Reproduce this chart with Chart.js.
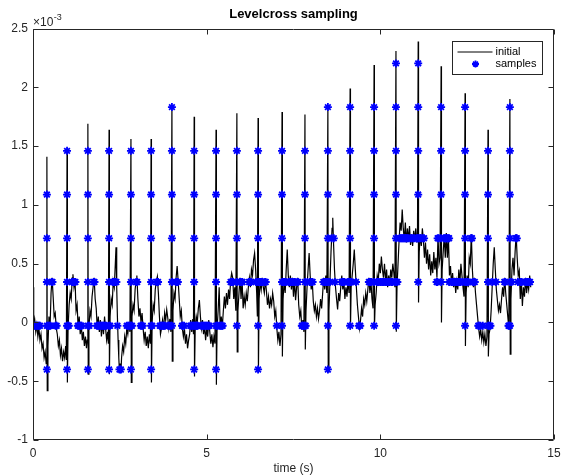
<!DOCTYPE html>
<html>
<head>
<meta charset="utf-8">
<script src="https://cdn.jsdelivr.net/npm/chart.js@4/dist/chart.umd.min.js"></script>
<style>
html,body{margin:0;padding:0;background:#fff;}
#wrap{width:561px;height:476px;position:relative;}
</style>
</head>
<body>
<div id="wrap"><canvas id="c" width="561" height="476"></canvas></div>
<script>
// ---- data (values in units of 1e-3) ----
const chartTitle = 'Levelcross sampling';
const xAxisTitle = 'time (s)';
const xTickValues = [0, 5, 10, 15];
const yTickValues = [-1, -0.5, 0, 0.5, 1, 1.5, 2, 2.5];
const seriesNames = ['initial', 'samples'];

// initial signal: [time (s), value (x1e-3)]
const initialSignal = [
[0.00,0.30],[0.02,-0.05],[0.05,0.02],[0.08,-0.08],[0.11,-0.02],[0.14,-0.12],[0.17,-0.05],[0.20,-0.15],[0.23,-0.10],[0.26,-0.22],[0.29,-0.18],[0.32,-0.30],[0.35,-0.25],[0.38,-0.35],
[0.40,1.41],[0.41,-0.58],[0.43,-0.20],
[0.46,0.05],[0.49,-0.05],[0.52,0.25],[0.55,0.38],[0.58,0.22],[0.61,0.05],[0.64,0.08],[0.67,-0.05],[0.70,-0.10],[0.73,-0.20],[0.76,-0.15],[0.79,-0.28],[0.82,-0.22],[0.85,-0.33],[0.88,-0.25],[0.91,-0.30],[0.94,-0.20],[0.96,-0.32],
[0.98,1.47],[0.99,-0.51],[1.01,-0.05],
[1.04,0.15],[1.07,0.25],[1.10,0.20],[1.13,0.38],[1.15,0.41],[1.18,0.30],[1.21,0.36],[1.24,0.10],[1.27,0.15],[1.30,-0.05],[1.33,0.05],[1.36,-0.10],[1.39,-0.02],[1.42,-0.15],[1.45,-0.08],[1.48,-0.20],[1.51,-0.12],[1.54,-0.22],[1.56,-0.15],
[1.58,1.69],[1.59,-0.44],[1.61,-0.05],
[1.64,0.10],[1.67,0.05],[1.70,0.22],[1.73,0.30],[1.76,0.38],[1.79,0.20],[1.82,0.12],[1.85,-0.05],[1.88,0.05],[1.91,-0.08],[1.94,0.02],[1.97,-0.12],[2.00,0.00],[2.03,-0.10],[2.06,0.05],[2.09,-0.05],[2.12,-0.15],[2.15,-0.08],[2.17,-0.18],
[2.19,1.64],[2.20,-0.44],[2.22,0.05],
[2.25,0.20],[2.28,0.15],[2.31,0.35],[2.34,0.30],[2.37,0.50],[2.39,0.64],[2.41,0.30],[2.43,0.05],[2.45,-0.15],[2.47,-0.30],[2.49,-0.42],[2.51,-0.35],[2.53,-0.43],[2.55,-0.30],[2.58,-0.20],[2.61,-0.25],[2.64,-0.12],[2.67,-0.18],[2.70,-0.05],[2.73,-0.10],[2.76,0.00],[2.79,-0.08],
[2.82,1.56],[2.83,-0.51],[2.85,0.05],
[2.88,0.15],[2.91,0.10],[2.94,0.28],[2.97,0.36],[2.99,0.40],[3.02,0.20],[3.05,0.05],[3.08,0.12],[3.11,0.00],[3.14,0.08],[3.17,-0.05],[3.20,-0.15],[3.23,-0.08],[3.26,-0.20],[3.29,-0.12],[3.32,-0.22],[3.35,-0.10],[3.38,-0.18],
[3.40,1.56],[3.41,-0.51],[3.43,0.00],
[3.46,0.15],[3.49,0.10],[3.52,0.28],[3.55,0.35],[3.58,0.39],[3.61,0.25],[3.64,0.05],[3.67,-0.10],[3.70,-0.05],[3.73,0.02],[3.76,-0.06],[3.79,0.08],[3.82,0.02],[3.85,0.11],[3.88,0.04],[3.91,-0.05],[3.94,0.03],[3.97,-0.08],
[4.00,1.85],[4.01,-0.33],[4.03,0.10],
[4.06,0.25],[4.09,0.20],[4.12,0.38],[4.15,0.48],[4.18,0.35],[4.21,0.20],[4.24,0.05],[4.27,0.10],[4.30,-0.05],[4.33,-0.12],[4.36,-0.05],[4.39,-0.18],[4.42,-0.10],[4.45,-0.22],[4.48,-0.15],[4.51,-0.10],[4.54,0.02],[4.57,-0.08],[4.60,0.03],[4.62,-0.10],
[4.64,1.75],[4.65,-0.46],[4.67,-0.05],
[4.70,0.05],[4.73,0.00],[4.76,0.12],[4.79,0.19],[4.82,0.05],[4.85,-0.05],[4.88,0.02],[4.91,-0.10],[4.94,-0.03],[4.97,-0.15],[5.00,-0.05],[5.03,-0.12],[5.06,0.02],[5.09,-0.08],[5.12,-0.18],[5.15,-0.10],[5.18,-0.21],[5.21,-0.12],[5.24,-0.18],
[5.27,1.64],[5.28,-0.53],[5.30,-0.05],
[5.33,0.10],[5.36,0.30],[5.39,-0.05],[5.42,0.05],[5.45,-0.04],[5.48,0.10],[5.51,0.22],[5.54,0.12],[5.57,0.25],[5.60,0.15],[5.63,0.28],[5.66,0.20],[5.69,0.36],[5.72,0.42],[5.75,0.38],[5.78,0.20],[5.81,0.30],[5.84,0.10],
[5.87,1.78],[5.88,-0.25],[5.90,0.10],
[5.93,0.25],[5.96,0.38],[5.99,0.20],[6.02,0.36],[6.05,0.12],[6.08,0.22],[6.11,0.15],[6.14,0.25],[6.17,0.18],[6.20,0.30],[6.23,0.38],[6.26,0.30],[6.29,0.45],[6.32,0.40],[6.35,0.53],[6.38,0.59],[6.41,0.45],[6.44,0.25],[6.46,0.05],
[6.48,1.74],[6.49,-0.43],[6.51,0.20],
[6.54,0.35],[6.57,0.28],[6.60,0.38],[6.63,0.30],[6.66,0.25],[6.69,0.36],[6.72,0.27],[6.75,0.15],[6.78,0.22],[6.81,0.12],[6.84,0.20],[6.87,0.15],[6.90,0.25],[6.93,0.18],[6.96,0.05],[6.99,0.10],[7.02,-0.05],[7.05,-0.15],[7.08,-0.08],[7.11,-0.20],[7.14,-0.10],
[7.17,1.79],[7.18,-0.29],[7.20,0.20],
[7.23,0.35],[7.26,0.25],[7.29,0.45],[7.32,0.62],[7.35,0.40],[7.38,0.30],[7.41,0.40],[7.44,0.28],[7.47,0.38],[7.50,0.22],[7.53,0.36],[7.56,0.19],[7.59,0.30],[7.62,0.38],[7.65,0.15],[7.68,0.05],[7.71,0.10],[7.74,-0.06],[7.77,0.02],[7.80,-0.08],
[7.83,1.77],[7.84,-0.23],[7.86,0.10],
[7.89,0.30],[7.92,0.45],[7.95,0.59],[7.98,0.40],[8.01,0.28],[8.04,0.35],[8.07,0.18],[8.10,0.10],[8.13,0.15],[8.16,0.05],[8.19,0.12],[8.22,0.03],[8.25,0.10],[8.28,0.20],[8.31,0.12],[8.34,0.25],[8.37,0.38],[8.40,0.28],[8.43,0.40],[8.46,0.25],
[8.49,1.84],[8.50,-0.42],[8.52,0.10],
[8.55,0.35],[8.58,0.60],[8.61,0.80],[8.63,0.89],[8.65,0.70],[8.68,0.45],[8.71,0.30],[8.74,0.20],[8.77,0.11],[8.80,0.25],[8.83,0.18],[8.86,0.30],[8.89,0.40],[8.92,0.28],[8.95,0.35],[8.98,0.20],[9.01,0.30],[9.04,0.22],[9.07,0.36],[9.10,0.25],
[9.13,1.99],[9.14,-0.06],[9.16,0.30],
[9.19,0.40],[9.22,0.50],[9.25,0.62],[9.28,0.45],[9.31,0.30],[9.34,0.15],[9.37,0.05],[9.40,-0.05],[9.43,0.02],[9.46,0.12],[9.49,0.05],[9.52,0.20],[9.55,0.15],[9.58,0.25],[9.61,0.18],[9.64,0.28],[9.67,0.38],[9.70,0.25],[9.73,0.35],[9.76,0.20],[9.79,0.12],
[9.82,2.19],[9.83,-0.05],[9.85,0.15],
[9.88,0.25],[9.91,0.40],[9.94,0.35],[9.97,0.50],[10.00,0.42],[10.03,0.56],[10.06,0.45],[10.09,0.38],[10.12,0.50],[10.15,0.35],[10.18,0.45],[10.21,0.30],[10.24,0.40],[10.27,0.32],[10.30,0.45],[10.33,0.38],[10.36,0.50],[10.39,0.42],[10.42,0.30],
[10.45,2.31],[10.46,-0.08],[10.48,0.30],
[10.51,0.50],[10.54,0.70],[10.57,0.85],[10.60,0.78],[10.63,0.96],[10.66,0.80],[10.69,0.70],[10.72,0.85],[10.75,0.68],[10.78,0.80],[10.81,0.70],[10.84,0.82],[10.87,0.66],[10.90,0.75],[10.93,0.65],[10.96,0.78],[10.99,0.70],[11.02,0.80],[11.05,0.68],[11.07,0.75],
[11.09,2.39],[11.10,0.17],[11.12,0.60],
[11.15,0.75],[11.18,0.65],[11.21,0.80],[11.24,0.70],[11.27,0.55],[11.30,0.68],[11.33,0.50],[11.36,0.62],[11.39,0.45],[11.42,0.58],[11.45,0.40],[11.48,0.52],[11.51,0.42],[11.54,0.60],[11.57,0.45],[11.60,0.55],[11.63,0.38],[11.66,0.74],[11.69,0.50],[11.72,0.55],
[11.75,2.18],[11.76,0.00],[11.78,0.45],
[11.81,0.60],[11.84,0.74],[11.87,0.55],[11.90,0.76],[11.93,0.55],[11.96,0.73],[11.99,0.40],[12.02,0.48],[12.05,0.32],[12.08,0.42],[12.11,0.30],[12.14,0.38],[12.17,0.25],[12.20,0.35],[12.23,0.28],[12.26,0.45],[12.29,0.33],[12.32,0.50],[12.35,0.40],[12.38,0.30],[12.41,0.22],
[12.44,1.95],[12.45,-0.20],[12.47,0.25],
[12.50,0.40],[12.53,0.30],[12.56,0.55],[12.59,0.50],[12.62,0.75],[12.65,0.45],[12.68,0.30],[12.71,0.38],[12.74,0.25],[12.77,0.15],[12.80,0.05],[12.83,-0.05],[12.86,-0.12],[12.89,-0.06],[12.92,-0.15],[12.95,-0.08],[12.98,-0.17],[13.01,-0.10],[13.04,-0.20],[13.07,-0.12],
[13.10,1.64],[13.11,-0.29],[13.13,-0.10],
[13.16,-0.05],[13.19,0.10],[13.22,0.30],[13.25,0.50],[13.28,0.64],[13.31,0.45],[13.34,0.28],[13.37,0.19],[13.40,0.10],[13.43,0.15],[13.46,0.08],[13.49,0.20],[13.52,0.30],[13.55,0.22],[13.58,0.38],[13.61,0.25],[13.64,0.15],[13.67,0.05],[13.70,-0.05],
[13.73,1.90],[13.74,-0.27],[13.76,0.20],
[13.79,0.45],[13.82,0.55],[13.85,0.40],[13.88,0.60],[13.91,0.75],[13.94,0.55],[13.97,0.40],[14.00,0.44],[14.03,0.20],[14.06,0.35],[14.09,0.14],[14.12,0.30],[14.15,0.22],[14.18,0.38],[14.21,0.25],[14.24,0.34],[14.27,0.28],[14.30,0.40],[14.33,0.30]
];

// sampling levels (x1e-3)
const sampleLevels = [-0.400, -0.028, 0.344, 0.716, 1.088, 1.460, 1.832, 2.204];
// sample times at each level (same order as sampleLevels)
const sampleTimesByLevel = [
  [0.40,0.98,1.58,2.19,2.49,2.53,2.82,3.40,4.64,5.27,6.48,8.49],
  [0.40,0.98,1.58,2.19,2.82,3.40,4.00,4.64,5.27,5.87,6.48,7.17,7.83,8.49,9.13,9.82,10.45,12.44,13.10,13.73,
   0.02,0.05,0.08,0.11,0.14,0.17,0.20,0.44,0.47,0.50,0.65,0.68,1.01,1.03,1.29,1.32,1.35,1.38,1.40,1.62,1.84,1.87,1.90,1.93,1.96,1.99,2.02,2.05,2.08,2.11,2.22,2.43,2.70,2.74,2.77,2.80,2.85,3.10,3.13,3.16,3.43,3.65,3.68,3.71,3.74,3.77,3.80,3.89,3.92,3.95,4.29,4.31,4.35,4.53,4.55,4.59,4.61,4.67,4.70,4.72,4.74,4.84,4.87,4.90,4.93,4.96,4.99,5.02,5.05,5.08,5.30,5.32,5.38,5.41,5.44,5.46,7.02,7.74,7.76,7.79,7.85,9.38,9.42,12.82,12.84,12.88,12.95,13.14,13.17,13.69,13.71],
  [0.40,0.98,1.58,2.19,2.82,3.40,4.00,4.64,5.27,5.87,6.48,7.17,7.83,8.49,9.13,9.82,10.45,11.09,11.75,12.44,13.10,13.73,
   0.54,0.56,1.12,1.16,1.20,1.22,1.75,1.77,2.30,2.33,2.38,2.40,2.97,3.00,3.56,3.60,4.12,4.17,5.69,5.72,5.76,5.96,5.97,6.02,6.03,6.22,6.24,6.28,6.42,6.53,6.56,6.59,6.61,6.68,6.70,7.22,7.25,7.28,7.36,7.40,7.42,7.46,7.48,7.52,7.54,7.61,7.63,7.90,7.97,8.03,8.05,8.36,8.39,8.42,8.45,8.55,8.69,8.88,8.90,8.94,8.96,9.07,9.08,9.17,9.30,9.67,9.69,9.72,9.74,9.90,9.93,9.96,10.01,10.05,10.08,10.10,10.14,10.16,10.19,10.22,10.25,10.27,10.32,10.34,10.41,10.49,11.62,11.64,11.98,12.04,12.06,12.10,12.13,12.15,12.19,12.21,12.25,12.28,12.31,12.37,12.48,12.52,12.54,12.67,12.69,12.72,13.22,13.33,13.57,13.59,13.78,13.96,14.04,14.07,14.17,14.19,14.23,14.25,14.29,14.31],
  [0.40,0.98,1.58,2.19,2.82,3.40,4.00,4.64,5.27,5.87,6.48,7.17,7.83,8.49,9.13,9.82,10.45,11.09,11.75,12.44,13.10,13.73,
   8.60,8.66,10.56,10.59,10.62,10.65,10.68,10.71,10.74,10.77,10.80,10.86,10.89,10.94,10.98,11.04,11.06,11.13,11.17,11.22,11.26,11.65,11.68,11.83,11.86,11.89,11.92,11.95,11.98,12.61,12.64,13.90,13.93],
  [0.40,0.98,1.58,2.19,2.82,3.40,4.00,4.64,5.27,5.87,6.48,7.17,7.83,8.49,9.13,9.82,10.45,11.09,11.75,12.44,13.10,13.73],
  [0.98,1.58,2.19,2.82,3.40,4.00,4.64,5.27,5.87,6.48,7.17,7.83,8.49,9.13,9.82,10.45,11.09,11.75,12.44,13.10,13.73],
  [4.00,8.49,9.13,9.82,10.45,11.09,11.75,12.44,13.73],
  [10.45,11.09]
];

// ---- build datasets ----
const lineData = initialSignal.map(p => ({x: p[0], y: p[1]}));
const sampleData = [];
sampleTimesByLevel.forEach((times, i) => times.forEach(t => sampleData.push({x: t, y: sampleLevels[i]})));

const AX = '#262626';
const FONT = '"Liberation Sans", Arial, Helvetica, sans-serif';

const matlabFrame = {
  id: 'matlabFrame',
  afterDraw(chart) {
    const {ctx, chartArea: a, scales: {x, y}} = chart;
    ctx.save();
    ctx.strokeStyle = AX;
    ctx.lineWidth = 1;
    const L = Math.round(a.left) + 0.5, R = Math.round(a.right) - 0.5;
    const T = Math.round(a.top) + 0.5, B = Math.round(a.bottom) - 0.5;
    ctx.beginPath();
    ctx.rect(L, T, R - L, B - T);
    ctx.stroke();
    const tl = 5;
    ctx.beginPath();
    xTickValues.forEach(v => {
      const px = Math.round(x.getPixelForValue(v)) + 0.5;
      ctx.moveTo(px, B); ctx.lineTo(px, B - tl);
      ctx.moveTo(px, T); ctx.lineTo(px, T + tl);
    });
    yTickValues.forEach(v => {
      const py = Math.round(y.getPixelForValue(v)) + 0.5;
      ctx.moveTo(L, py); ctx.lineTo(L + tl, py);
      ctx.moveTo(R, py); ctx.lineTo(R - tl, py);
    });
    ctx.stroke();

    // exponent label
    ctx.fillStyle = AX;
    ctx.textBaseline = 'alphabetic';
    ctx.textAlign = 'left';
    ctx.font = '12px ' + FONT;
    const ex = a.left, ey = a.top - 3;
    ctx.fillText('\u00d710', ex, ey);
    const w = ctx.measureText('\u00d710').width;
    ctx.font = '9px ' + FONT;
    ctx.fillText('-3', ex + w + 0.5, ey - 6);

    // legend
    const bw = 90, bh = 33;
    const bx = Math.round(a.right) - 12 + 0.5 - bw, by = Math.round(a.top) + 12 + 0.5;
    ctx.fillStyle = '#fff';
    ctx.fillRect(bx, by, bw, bh);
    ctx.strokeStyle = AX;
    ctx.lineWidth = 1;
    ctx.strokeRect(bx, by, bw, bh);
    const r1 = by + 10.5, r2 = by + 22.5;
    ctx.strokeStyle = '#000';
    ctx.beginPath();
    ctx.moveTo(bx + 5, r1); ctx.lineTo(bx + 40, r1);
    ctx.stroke();
    ctx.strokeStyle = '#0000ff';
    ctx.fillStyle = '#0000ff';
    ctx.lineWidth = 1.8;
    Chart.helpers.drawPoint(ctx, {pointStyle: 'star', radius: 3.5, borderWidth: 1.8, rotation: 0}, bx + 23, r2);
    ctx.fillStyle = '#000';
    ctx.font = '11px ' + FONT;
    ctx.textBaseline = 'middle';
    ctx.fillText(seriesNames[0], bx + 43, r1);
    ctx.fillText(seriesNames[1], bx + 43, r2);
    ctx.restore();
  }
};

new Chart(document.getElementById('c'), {
  type: 'scatter',
  data: {
    datasets: [
      {label: seriesNames[0], data: lineData, showLine: true, borderColor: '#000', borderWidth: 1.2, pointRadius: 0, tension: 0, order: 1},
      {label: seriesNames[1], data: sampleData, showLine: false, pointStyle: 'star', pointRadius: 4, pointHoverRadius: 4, borderColor: '#0000ff', backgroundColor: '#0000ff', pointBorderWidth: 1.8, borderWidth: 1.8, order: 0}
    ]
  },
  options: {
    responsive: false,
    animation: false,
    devicePixelRatio: 1,
    layout: {padding: {top: 0, right: 7, bottom: 0, left: 0}},
    plugins: {
      legend: {display: false},
      tooltip: {enabled: false},
      title: {display: true, text: chartTitle, fullSize: false, color: '#000',
              font: {family: FONT, size: 13, weight: 'bold'}, padding: {top: 7, bottom: 6}}
    },
    scales: {
      x: {
        type: 'linear', min: 0, max: 15,
        afterBuildTicks: s => { s.ticks = xTickValues.map(v => ({value: v})); },
        afterFit: s => { s.height = 36; s.paddingLeft = 0; s.paddingRight = 0; },
        grid: {display: false, drawTicks: false},
        border: {display: false},
        ticks: {color: AX, padding: 6, font: {family: FONT, size: 12}, maxRotation: 0, autoSkip: false,
                callback: v => String(v)},
        title: {display: true, text: xAxisTitle, color: AX, font: {family: FONT, size: 12}, padding: {top: 0, bottom: 0}}
      },
      y: {
        type: 'linear', min: -1, max: 2.5,
        afterBuildTicks: s => { s.ticks = yTickValues.map(v => ({value: v})); },
        afterFit: s => { s.width = 33; s.paddingTop = 0; s.paddingBottom = 0; },
        grid: {display: false, drawTicks: false},
        border: {display: false},
        ticks: {color: AX, padding: 5, font: {family: FONT, size: 12}, autoSkip: false,
                callback: v => String(v)}
      }
    }
  },
  plugins: [matlabFrame]
});
</script>
</body>
</html>
